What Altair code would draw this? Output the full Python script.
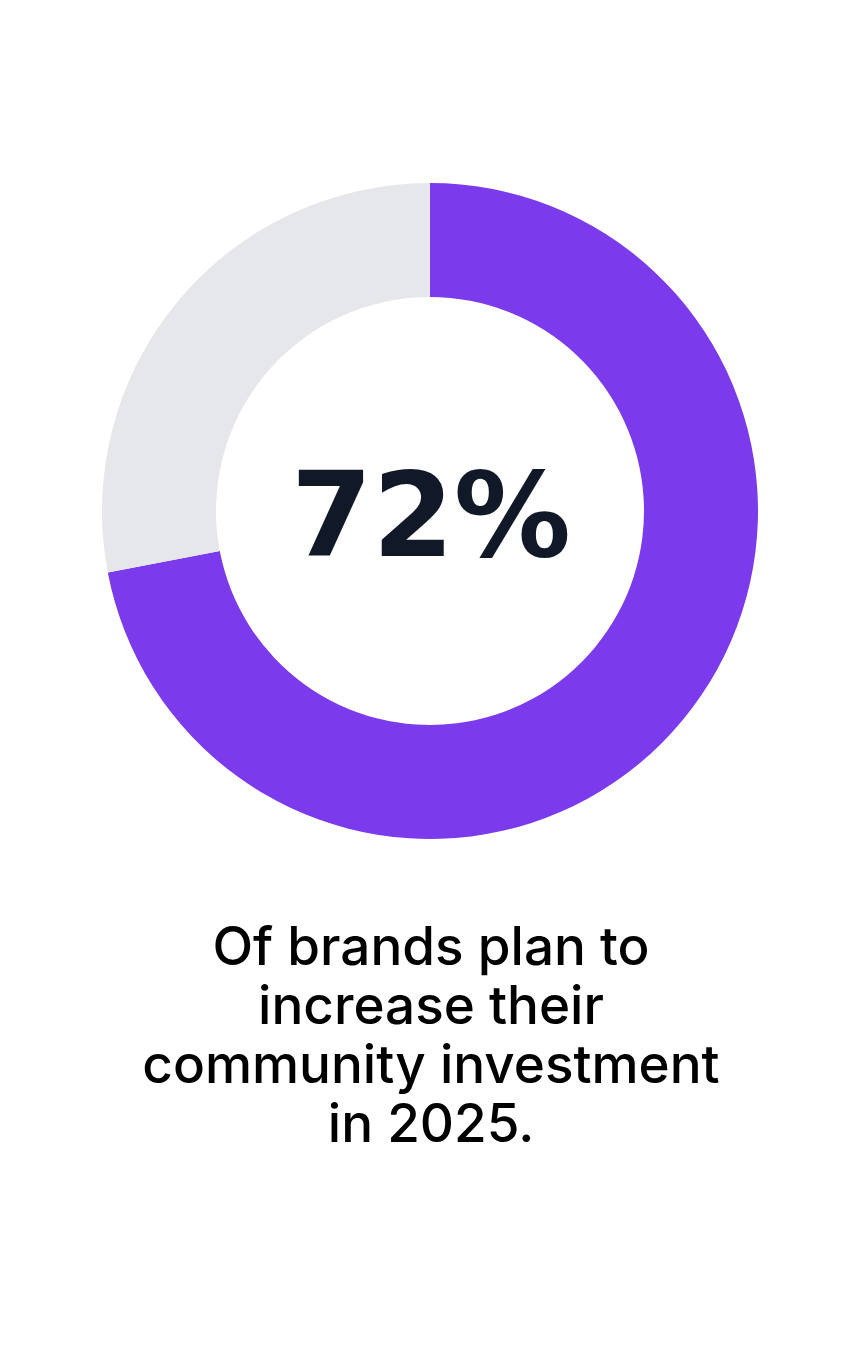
import altair as alt
import pandas as pd

# Data
categories = ["Increase", "Other"]
values = [72, 28]
colors = ["#7c3aed", "#e5e7eb"]
center_label = ["72%"]
caption_lines = ["Of brands plan to", "increase their", "community investment", "in 2025."]

W, H = 844, 1334
CX, CY = 422, 503

arc_df = pd.DataFrame({"category": categories, "value": values, "order": [0, 1]})
label_df = pd.DataFrame({"label": center_label})
caption_df = pd.DataFrame({"caption": ["\n".join(caption_lines)]})

donut = alt.Chart(arc_df).mark_arc(outerRadius=328, innerRadius=214).encode(
    theta=alt.Theta("value:Q", stack=True),
    order=alt.Order("order:Q"),
    color=alt.Color("category:N", scale=alt.Scale(domain=categories, range=colors), legend=None),
    x=alt.value(CX),
    y=alt.value(CY),
)

center = alt.Chart(label_df).mark_text(
    font="DejaVu Sans", fontWeight="bold", fontSize=117, color="#111827",
    align="center", baseline="alphabetic",
).encode(text="label:N", x=alt.value(CX + 1), y=alt.value(548))

caption = alt.Chart(caption_df).mark_text(
    font="Inter", fontSize=53, fontWeight=500, color="#000000", align="center", baseline="alphabetic",
    lineBreak="\n", lineHeight=59,
).encode(text="caption:N", x=alt.value(CX + 1), y=alt.value(957))

chart = alt.layer(donut, center, caption).properties(
    width=W, height=H, autosize=alt.AutoSizeParams(type="none"), padding=0,
    background="#ffffff",
).configure_view(stroke=None)

chart.save("out.html", embed_options={"renderer": "svg", "actions": False})
